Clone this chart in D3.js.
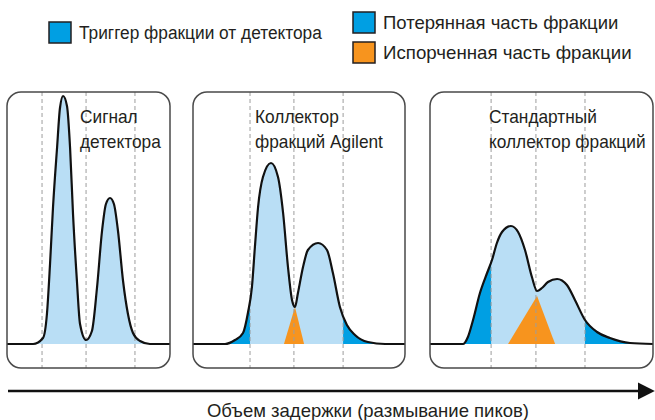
<!DOCTYPE html>
<html lang="ru">
    <head>
        <meta charset="utf-8">
        <title>Fraction collector</title>
        <script type="text/javascript" src="https://cdn.jsdelivr.net/npm/d3@7"></script>
        <style type="text/css">
            body { margin: 0; background: #fff; }
            text {
                font-family: "Liberation Sans", Arial, sans-serif;
                fill: #231f20;
            }
        </style>
    </head>
    <body>
        <script type="text/javascript">
            var w = 655;
            var h = 420;

            //Curve points [volume, signal] (0-100 units per panel)
            var signalCurve = [[0,0],[16,0],[22.1,2.4],[24.5,12],[26.4,32],[28.2,54.4],[30.7,78.4],[32.5,94.4],
                               [34.4,99.2],[36.8,95.2],[38.7,78.4],[40.5,52],[42.9,25.2],[44.8,8],[48.5,1.6],
                               [52.1,5.2],[55.2,22.4],[58.3,45.2],[60.7,56],[63.2,58.4],[65.6,56],[68.1,45.2],
                               [71.2,25.2],[74.2,12],[77.3,4.4],[81.6,1.2],[87.7,0],[100,0]];
            var agilentCurve = [[0,0],[15.1,0],[19.8,1.6],[23.6,4.4],[25.9,12.4],[27.8,22.8],[29.2,38.8],[30.7,54.8],
                                [33,66.8],[36.8,72.4],[40.1,66.8],[42.5,52.4],[44.8,30.8],[46.7,17.6],[48.1,14.8],
                                [49.5,20.4],[51.9,30.8],[54.2,37.6],[59,40.4],[63.2,37.6],[66,28.4],[69.3,14.8],
                                [72.6,7.6],[76.4,3.6],[82.5,0.8],[90.6,0],[100,0]];
            var standardCurve = [[0,0],[14.8,0],[17,2.8],[19.3,9.6],[22.4,20.4],[25.6,28.4],[27.8,33.6],[30,40.4],
                                 [32.3,44.8],[36.3,47.2],[39.5,44.8],[42.6,37.6],[45.7,26.8],[48,21.2],[50.2,22.4],
                                 [52.9,24.8],[57,26],[61.4,23.6],[65,17.6],[69.5,9.6],[74.9,4.8],[80.7,2.4],
                                 [89.7,0.4],[100,0]];

            //Fraction trigger positions (dashed lines)
            var signalCuts = [21.5, 48.5, 78.5];
            var agilentCuts = [26.9, 47.6, 70.8];
            var standardCuts = [27.4, 47.5, 69.5];

            //Spoiled (mixed) part of the fraction
            var agilentSpoiled = [[42.9,0],[48.1,14.8],[52.4,0]];
            var standardSpoiled = [[35,0],[48,19.2],[56.1,0]];

            //Texts
            var panelTitles = [["Сигнал", "детектора"], ["Коллектор", "фракций Agilent"], ["Стандартный", "коллектор фракций"]];
            var legendLabels = ["Триггер фракции от детектора", "Потерянная часть фракции", "Испорченная часть фракции"];
            var axisLabel = "Объем задержки (размывание пиков)";

            var lightBlue = "#b9def5";
            var darkBlue = "#009fe3";
            var orange = "#f7941e";

            //Panel layout
            var boxTop = 92, boxBottom = 368, base = 344;
            var panels = [
                { x: 7,   w: 163, curve: signalCurve,   cuts: signalCuts,   spoiled: null,            lost: false, tx: 80 },
                { x: 193, w: 212, curve: agilentCurve,  cuts: agilentCuts,  spoiled: agilentSpoiled,  lost: true,  tx: 255 },
                { x: 430, w: 223, curve: standardCurve, cuts: standardCuts, spoiled: standardSpoiled, lost: true,  tx: 489 }
            ];

            //the original type is a condensed face, squeeze the glyphs a bit
            function condense(sel, k) {
                sel.each(function(d) {
                    var f = (typeof k === "function") ? k(d) : k;
                    var len = this.getComputedTextLength();
                    d3.select(this)
                        .attr("textLength", len * f)
                        .attr("lengthAdjust", "spacingAndGlyphs");
                });
            }

            var svg = d3.select("body")
                        .append("svg")
                        .attr("width", w)
                        .attr("height", h);

            var defs = svg.append("defs");

            var yScale = d3.scaleLinear()
                            .domain([0, 100])
                            .range([base, base - 250]);

            panels.forEach(function(p, i) {
                var xScale = d3.scaleLinear()
                                .domain([0, 100])
                                .range([p.x, p.x + p.w]);

                var g = svg.append("g");

                //clip to box
                defs.append("clipPath")
                    .attr("id", "box" + i)
                    .append("rect")
                    .attr("x", p.x).attr("y", boxTop)
                    .attr("width", p.w).attr("height", boxBottom - boxTop)
                    .attr("rx", 14);

                var inner = g.append("g").attr("clip-path", "url(#box" + i + ")");

                var area = d3.area()
                    .x(function(d) { return xScale(d[0]); })
                    .y0(yScale(0))
                    .y1(function(d) { return yScale(d[1]); })
                    .curve(d3.curveMonotoneX);

                var line = d3.line()
                    .x(function(d) { return xScale(d[0]); })
                    .y(function(d) { return yScale(d[1]); })
                    .curve(d3.curveMonotoneX);

                inner.append("path")
                    .attr("d", area(p.curve))
                    .attr("fill", lightBlue);

                //lost parts outside the outer triggers
                if (p.lost) {
                    var lostRanges = [[0, p.cuts[0]], [p.cuts[2], 100]];
                    lostRanges.forEach(function(r, j) {
                        var cid = "lost" + i + "_" + j;
                        defs.append("clipPath")
                            .attr("id", cid)
                            .append("rect")
                            .attr("x", xScale(r[0])).attr("y", boxTop)
                            .attr("width", xScale(r[1]) - xScale(r[0]))
                            .attr("height", boxBottom - boxTop);
                        inner.append("path")
                            .attr("d", area(p.curve))
                            .attr("clip-path", "url(#" + cid + ")")
                            .attr("fill", darkBlue);
                    });
                }

                if (p.spoiled) {
                    inner.append("path")
                        .attr("d", d3.line()
                            .x(function(d) { return xScale(d[0]); })
                            .y(function(d) { return yScale(d[1]); })(p.spoiled) + "Z")
                        .attr("fill", orange);
                }

                //dashed trigger lines
                inner.selectAll("line.cut")
                    .data(p.cuts)
                    .enter()
                    .append("line")
                    .attr("class", "cut")
                    .attr("x1", function(d) { return xScale(d); })
                    .attr("x2", function(d) { return xScale(d); })
                    .attr("y1", boxTop)
                    .attr("y2", boxBottom)
                    .attr("stroke", "#9d9d9d")
                    .attr("stroke-width", 1)
                    .attr("stroke-dasharray", "4,3");

                inner.append("path")
                    .attr("d", line(p.curve))
                    .attr("fill", "none")
                    .attr("stroke", "#111")
                    .attr("stroke-width", 2.2);

                g.append("rect")
                    .attr("x", p.x).attr("y", boxTop)
                    .attr("width", p.w).attr("height", boxBottom - boxTop)
                    .attr("rx", 14)
                    .attr("fill", "none")
                    .attr("stroke", "#4a4a4a")
                    .attr("stroke-width", 1.5);

                g.selectAll("text.title")
                    .data(panelTitles[i])
                    .enter()
                    .append("text")
                    .attr("class", "title")
                    .attr("x", p.tx)
                    .attr("y", function(d, k) { return 123 + k * 25; })
                    .attr("font-size", "19px")
                    .text(function(d) { return d; })
                    .call(condense, 0.91);
            });

            //Legend
            var legendItems = [
                { label: legendLabels[0], color: darkBlue, x: 49,  y: 22, size: 18,   squeeze: 0.96 },
                { label: legendLabels[1], color: darkBlue, x: 353, y: 12, size: 18.5, squeeze: 1 },
                { label: legendLabels[2], color: orange,   x: 353, y: 42, size: 18.5, squeeze: 1.01 }
            ];
            var legend = svg.selectAll("g.legend")
                .data(legendItems)
                .enter()
                .append("g")
                .attr("class", "legend")
                .attr("transform", function(d) { return "translate(" + d.x + "," + d.y + ")"; });
            legend.append("rect")
                .attr("width", 22).attr("height", 21)
                .attr("fill", function(d) { return d.color; })
                .attr("stroke", "#231f20")
                .attr("stroke-width", 1.5);
            legend.append("text")
                .attr("x", 30)
                .attr("y", 17)
                .attr("font-size", function(d) { return d.size + "px"; })
                .text(function(d) { return d.label; })
                .call(condense, function(d) { return d.squeeze; });

            //Volume arrow
            defs.append("marker")
                .attr("id", "arrow")
                .attr("viewBox", "0 0 10 10")
                .attr("refX", 0).attr("refY", 5)
                .attr("markerWidth", 7).attr("markerHeight", 7.5)
                .attr("markerUnits", "strokeWidth")
                .attr("orient", "auto")
                .append("path")
                .attr("d", "M0,0L10,5L0,10Z")
                .attr("fill", "#111");

            svg.append("line")
                .attr("x1", 8).attr("x2", 638)
                .attr("y1", 391).attr("y2", 391)
                .attr("stroke", "#111")
                .attr("stroke-width", 2.4)
                .attr("marker-end", "url(#arrow)");

            svg.append("text")
                .attr("x", 368)
                .attr("y", 417)
                .attr("text-anchor", "middle")
                .attr("font-size", "18.5px")
                .text(axisLabel);
        </script>
    </body>
</html>
